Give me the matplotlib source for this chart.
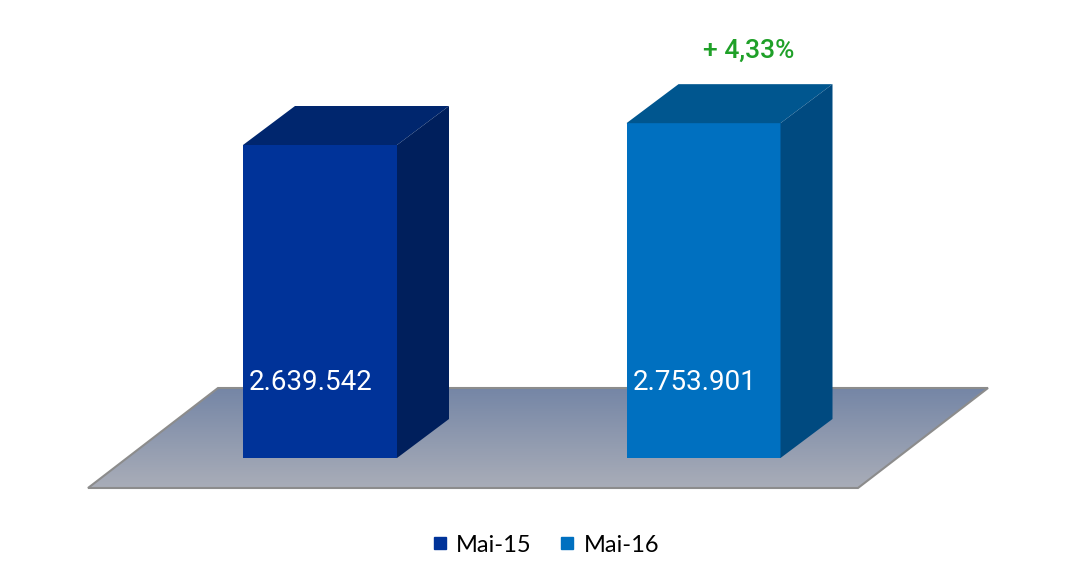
import numpy as np
import matplotlib
matplotlib.use('Agg')
import matplotlib.pyplot as plt
from matplotlib.patches import Polygon, Rectangle
from matplotlib.lines import Line2D
from matplotlib.colors import LinearSegmentedColormap

# --- data ---
periods = ['Mai-15', 'Mai-16']
values = [2639542, 2753901]
value_labels = ['2.639.542', '2.753.901']
change_label = '+ 4,33%'

front_colors = ['#003399', '#0070c0']
top_colors = ['#00266e', '#00568f']
side_colors = ['#001f5c', '#004a80']

W, H = 1069, 581
fig = plt.figure(figsize=(W / 100, H / 100), dpi=100)
ax = fig.add_axes([0, 0, 1, 1])
ax.axis('off')

# value axis does not start at zero (3D excel style)
v0 = 1_000_000
k = 313 / (values[0] - v0)   # pixels per value unit
base = 123                   # baseline, px from bottom
ax.set_xlim(0, W)
ax.set_ylim(v0 - base / k, v0 + (H - base) / k)


def py(p):
    # pixel offset -> value units
    return p / k


depth_x, depth_y = 52, 39

# --- floor ---
f_front = v0 - py(30)
f_back = v0 + py(70)
floor = Polygon([(88, f_front), (858, f_front), (988, f_back), (218, f_back)],
                closed=True, facecolor='none', edgecolor='#8c8c8c', lw=1.5, zorder=2)
ax.add_patch(floor)
cmap = LinearSegmentedColormap.from_list('floor', ['#a9adb8', '#7586a6'])
grad = np.linspace(0, 1, 200).reshape(-1, 1)
im = ax.imshow(grad, cmap=cmap, extent=(88, 988, f_front, f_back), origin='lower',
               aspect='auto', zorder=1)
im.set_clip_path(floor)
ax.set_xlim(0, W)
ax.set_ylim(v0 - base / k, v0 + (H - base) / k)

# --- bars ---
centers = [320, 703.5]
bw = 154
for i, v in enumerate(values):
    x0 = centers[i] - bw / 2
    x1 = centers[i] + bw / 2
    ax.add_patch(Rectangle((x0, v0), bw, v - v0, facecolor=front_colors[i],
                           edgecolor='none', zorder=3))
    ax.add_patch(Polygon([(x0, v), (x1, v), (x1 + depth_x, v + py(depth_y)),
                          (x0 + depth_x, v + py(depth_y))],
                         closed=True, facecolor=top_colors[i], edgecolor='none', zorder=3))
    ax.add_patch(Polygon([(x1, v0), (x1 + depth_x, v0 + py(depth_y)),
                          (x1 + depth_x, v + py(depth_y)), (x1, v)],
                         closed=True, facecolor=side_colors[i], edgecolor='none', zorder=3))
    ax.text(centers[i] - 9, v0 + py(75), value_labels[i], color='white',
            ha='center', va='center', fontsize=20, family='Roboto', zorder=4)

ax.text(centers[1] + 45, values[1] + py(depth_y) + py(33), change_label,
        color='#1fa028', ha='center', va='center', fontsize=19, family='Roboto',
        weight='medium', zorder=4)

# --- legend ---
handles = [Line2D([], [], marker='s', ls='', color=c, markersize=8) for c in front_colors]
fig.legend(handles, periods, loc='center', bbox_to_anchor=(546 / W, 1 - 545 / H),
           ncol=2, frameon=False, prop={'family': 'Lato', 'size': 17},
           handlelength=0.6, handletextpad=0.4, columnspacing=1.2)

fig.savefig('out.png', dpi=100)
